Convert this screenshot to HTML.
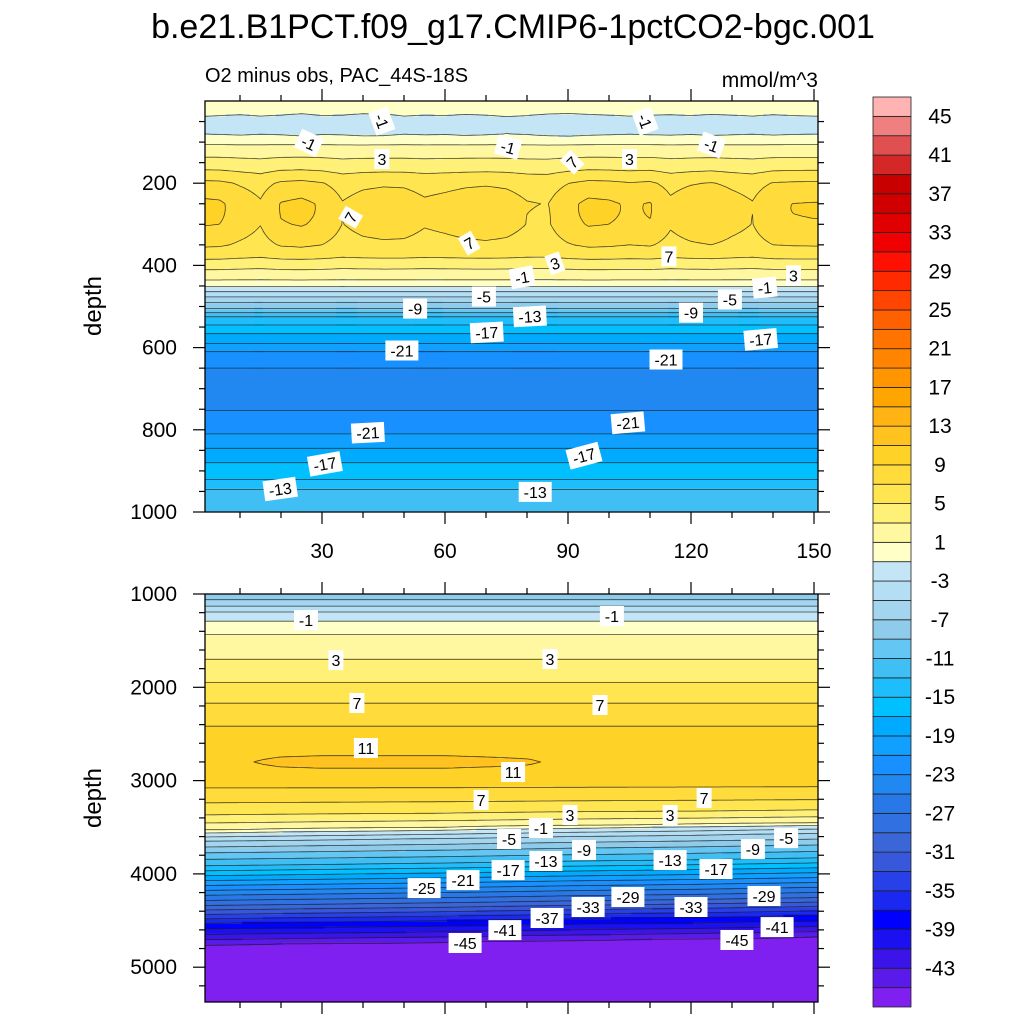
<!DOCTYPE html>
<html><head><meta charset="utf-8">
<style>
html,body{margin:0;padding:0;background:#fff;}
svg{display:block;font-family:"Liberation Sans",Arial,sans-serif;}
</style></head>
<body>
<svg id="chart" width="1024" height="1024" viewBox="0 0 1024 1024">
  <defs>
    <clipPath id="clipU"><rect x="205" y="101" width="613" height="411"/></clipPath>
    <clipPath id="clipL"><rect x="205" y="594" width="613" height="408"/></clipPath>
  </defs>
  <text x="513" y="38" text-anchor="middle" font-size="34">b.e21.B1PCT.f09_g17.CMIP6-1pctCO2-bgc.001</text>
  <text x="205" y="82" font-size="20">O2 minus obs, PAC_44S-18S</text>
  <text x="818" y="87" text-anchor="end" font-size="21">mmol/m^3</text>
  <text transform="translate(101,306) rotate(-90)" text-anchor="middle" font-size="24">depth</text>
  <text transform="translate(101,798) rotate(-90)" text-anchor="middle" font-size="24">depth</text>
  <g id="upperFill" clip-path="url(#clipU)"></g>
  <g id="upperLines" clip-path="url(#clipU)"></g>
  <g id="lowerFill" clip-path="url(#clipL)"></g>
  <g id="lowerLines" clip-path="url(#clipL)"></g>
  <g id="labels"></g>
  <g id="axes"></g>
  <g id="colorbar"></g>
</svg>
<script>
// ---- data ----
const colorsBottomUp = ["#8020f0","#5a1aea","#3a14e8","#1a10f0","#0000ff","#1a28f0","#2840e8","#3858dc","#3a66d8","#3070e0","#2878e8","#2088f0","#1890ff","#10a0ff","#00aaff","#00c0ff","#1ebefc","#40bff4","#64c6f2","#8fcbea","#a3d5ee","#b3def4","#c3e5f5","#ffffc8","#fff8a0","#fff078","#ffe650","#ffdc3c","#ffd228","#ffc21e","#ffb414","#ffa500","#ff9600","#ff8400","#ff7400","#ff6000","#ff4500","#ff2a00","#ff1000","#f00000","#e00000","#d00000","#c80000","#d42828","#e05050","#f08080","#ffb3b3"];
const levelMin = -45, levelStep = 2, levelCount = 46;
const xTickValues = [30,60,90,120,150];
const upperYTicks = [200,400,600,800,1000];
const lowerYTicks = [1000,2000,3000,4000,5000];

const uDepths  = [0,20,40,60,80,100,120,150,175,200,250,300,350,375,400,425,440,455,470,490,505,525,545,566,590,610,650,700,740,780,810,845,880,915,945,975,1000];
const uProfile = [0.5,0.3,-1.5,-1.8,-1.2,0.5,2,3.5,5,6.5,7.6,7.4,6.5,5.5,3.5,2,0.5,-1.5,-4,-7,-9,-13,-15,-17,-19,-21,-23,-24.3,-23.5,-22,-21,-19,-17,-15.5,-13,-12,-11];
const uMidYears = [0,5,10,15,20,25,30,35,40,45,50,55,60,65,70,75,80,85,90,95,100,105,110,115,120,125,130,135,140,145,150];
const uMidAnom  = [2.0,1.8,0.6,-0.4,1.6,2.0,1.2,-0.5,0.2,0.5,0.4,-0.3,0.0,0.4,0.6,0.3,-0.5,-0.7,0.9,2.0,1.8,1.2,1.6,-0.2,0.7,1.2,0.2,-0.5,1.2,1.5,1.6];
const uSurfAnom = [0.3,0.1,-0.1,0.2,0,-0.4,0.1,0,-0.4,-0.3,0.2,0,0.1,-0.2,0,0.3,0.1,-0.3,-0.5,-0.2,0,0.2,0,-0.1,0.1,-0.2,0,0.2,-0.1,0.1,0.2];

const lDepths  = [1000,1060,1130,1190,1290,1430,1560,1700,1950,2170,2415,2650,2800,2900,3080,3240,3370,3455,3530,3560,3650,3775,3915,4020,4125,4230,4340,4435,4530,4650,4760,4850,5400];
const lProfile = [-9,-7,-5,-3,-1,1,2,3,5,7,9,10.3,10.6,10.4,9,7,5,3,1,-1,-5,-9,-13,-17,-21,-25,-29,-33,-37,-41,-45,-46,-47];
const lShiftYears = [0,30,60,90,120,150];
const lShift      = [0,15,30,50,65,85];
const lBumpYears = [0,10,20,30,40,50,60,70,80,90,100,110,120,130,140,150];
const lBump      = [0,0.3,0.6,0.7,0.7,0.7,0.7,0.6,0.5,0.2,0,0,0,0,0,0];

const upperLabels = [
 ["-1",44.6,49,70],["-1",26.8,102,25],["3",44.6,141,0],["-1",75.4,112,15],["7",91,149,-45],["3",105,141,0],["-1",108.8,49,70],["-1",125,107,20],
 ["7",37,283,-60],["7",65.9,346,-30],["3",86.8,395,-20],["7",114.6,378,0],["-1",78.8,429,-10],["-1",138,454,-5],["3",145,424,0],
 ["-5",69.5,476,0],["-5",129.5,483,0],["-9",52.7,505,0],["-9",120,515,0],["-13",80.7,524,-3],["-17",70.2,563,-3],["-17",137,580,-5],
 ["-21",49.5,607,0],["-21",113.9,629,0],["-21",104.6,783,-5],["-21",41.2,807,-3],["-17",93.9,863,-15],["-17",30.7,883,-10],["-13",19.8,944,-8],["-13",82,951,0]];
const lowerLabels = [
 ["-1",26.1,1279],["-1",100.7,1236],["3",33.4,1708],["3",85.6,1697],["7",38.5,2168],["7",97.8,2190],["11",40.7,2651],["11",76.6,2908],
 ["7",68.8,3208],["7",123.2,3187],["3",90.5,3369],["3",114.9,3369],["-1",83.4,3508],["-5",75.6,3626],["-5",143.2,3616],["-9",93.9,3744],["-9",135.1,3734],
 ["-13",84.6,3862],["-13",114.9,3852],["-17",75.4,3959],["-17",126.1,3948],["-21",64.4,4066],["-25",54.9,4152],["-29",104.6,4248],["-29",137.8,4237],
 ["-33",94.9,4355],["-33",120,4355],["-37",84.9,4473],["-41",74.6,4602],["-41",141,4570],["-45",64.9,4741],["-45",131.2,4709]];

// ---- scales ----
const NS = "http://www.w3.org/2000/svg";
const xs = yr => 199 + 4.1*yr;
const yU = d => 101 + 0.411*d;
const yL = d => 594 + (d-1000)*0.0933;
function interp(X,Y,x){
  if(x<=X[0]) return Y[0];
  for(let i=1;i<X.length;i++){ if(x<=X[i]){const t=(x-X[i-1])/(X[i]-X[i-1]); return Y[i-1]+t*(Y[i]-Y[i-1]);} }
  return Y[Y.length-1];
}
function upperVal(yr,d){
  const wMid=Math.exp(-Math.pow((d-270)/85,2));
  const wSurf=Math.exp(-Math.pow((d-55)/30,2));
  return interp(uDepths,uProfile,d)+interp(uMidYears,uMidAnom,yr)*wMid+interp(uMidYears,uSurfAnom,yr)*wSurf*1.5;
}
function lowerVal(yr,d){
  const w=Math.max(0,Math.min(1,(d-3000)/500));
  const dd=d+interp(lShiftYears,lShift,yr)*w;
  const wb=Math.exp(-Math.pow((d-2800)/130,2));
  return interp(lDepths,lProfile,dd)+interp(lBumpYears,lBump,yr)*wb;
}
function colorIdx(v){ let k=Math.floor((v-levelMin)/levelStep)+1; return Math.max(0,Math.min(colorsBottomUp.length-1,k)); }

function el(tag,attrs,parent){const e=document.createElementNS(NS,tag);for(const k in attrs)e.setAttribute(k,attrs[k]);parent.appendChild(e);return e;}

function drawPanel(fillG,lineG,valFn,yScale,d0,d1,dStep){
  const years=[];for(let y=1;y<=151;y+=1)years.push(y);
  const depths=[];for(let d=d0;d<=d1+0.01;d+=dStep)depths.push(d);
  const V=depths.map(d=>years.map(y=>valFn(y,d)));
  for(let j=0;j<depths.length;j++){
    const ya=yScale(depths[j]-dStep/2), yb=yScale(depths[j]+dStep/2);
    let i=0;
    while(i<years.length){
      const k=colorIdx(V[j][i]);let e=i;
      while(e+1<years.length&&colorIdx(V[j][e+1])===k)e++;
      const xa=xs(years[i]-0.5), xb=xs(years[e]+0.5);
      const r=el("rect",{x:xa.toFixed(1),y:ya.toFixed(2),width:(xb-xa+1.2).toFixed(1),height:(yb-ya+0.6).toFixed(2),fill:colorsBottomUp[k]},fillG);
      
      
      i=e+1;
    }
  }
  let dstr="";
  for(let L=0;L<levelCount;L++){
    const lv=levelMin+L*levelStep+1e-4;
    for(let j=0;j<depths.length-1;j++){
      const y0=yScale(depths[j]),y1=yScale(depths[j+1]);
      for(let i=0;i<years.length-1;i++){
        const a=V[j][i],b=V[j][i+1],c=V[j+1][i+1],d=V[j+1][i];
        const mn=Math.min(a,b,c,d),mx=Math.max(a,b,c,d);
        if(lv<mn||lv>mx)continue;
        const x0=xs(years[i]),x1=xs(years[i+1]);const p=[];
        if((a-lv)*(b-lv)<0){const t=(lv-a)/(b-a);p.push([x0+t*(x1-x0),y0]);}
        if((b-lv)*(c-lv)<0){const t=(lv-b)/(c-b);p.push([x1,y0+t*(y1-y0)]);}
        if((d-lv)*(c-lv)<0){const t=(lv-d)/(c-d);p.push([x0+t*(x1-x0),y1]);}
        if((a-lv)*(d-lv)<0){const t=(lv-a)/(d-a);p.push([x0,y0+t*(y1-y0)]);}
        for(let q=0;q+1<p.length;q+=2){dstr+="M"+p[q][0].toFixed(1)+" "+p[q][1].toFixed(1)+"L"+p[q+1][0].toFixed(1)+" "+p[q+1][1].toFixed(1);}
      }
    }
  }
  const path=el("path",{d:dstr,stroke:"#1a1a1a","stroke-width":"0.8","stroke-opacity":"0.8",fill:"none"},lineG);
  
  
}
drawPanel(document.getElementById("upperFill"),document.getElementById("upperLines"),upperVal,yU,0,1000,5);
drawPanel(document.getElementById("lowerFill"),document.getElementById("lowerLines"),lowerVal,yL,1000,5400,25);

// ---- contour labels ----
const lg=document.getElementById("labels");
function addLabel(txt,x,y,rot){
  const g=el("g",{transform:"translate("+x.toFixed(1)+","+y.toFixed(1)+") rotate("+rot+")"},lg);
  
  
  const w=txt.length*9+6;
  el("rect",{x:-w/2,y:-10,width:w,height:20,fill:"#fff"},g);
  const t=el("text",{x:0,y:6,"text-anchor":"middle","font-size":"16"},g);t.textContent=txt;
}
upperLabels.forEach(l=>addLabel(l[0],xs(l[1]),yU(l[2]),l[3]));
lowerLabels.forEach(l=>addLabel(l[0],xs(l[1]),yL(l[2]),0));

// ---- axes ----
const ax=document.getElementById("axes");
function line(x1,y1,x2,y2,name){const l=el("line",{x1,y1,x2,y2,stroke:"#000","stroke-width":"1.2"},ax);}
function txt(s,x,y,anchor,size,name){const t=el("text",{x,y,"text-anchor":anchor,"font-size":size},ax);t.textContent=s;}
[[101,512,yU,upperYTicks,50,0,1000,"upper"],[594,1002,yL,lowerYTicks,200,1000,5375,"lower"]].forEach(P=>{
  const [top,bot,ys,ticks,minorStep,dmin,dmax,nm]=P;
  const fr=el("rect",{x:205,y:top,width:613,height:bot-top,fill:"none",stroke:"#000","stroke-width":"1.3"},ax);
  
  
  for(let yr=10;yr<=150;yr+=10){
    const x=xs(yr);const len=(yr%30===0)?12:6;
    line(x,top,x,top-len,nm+'-top-tick');
    line(x,bot,x,bot+len,nm+'-bottom-tick');
  }
  for(let d=Math.ceil(dmin/minorStep)*minorStep;d<=dmax;d+=minorStep){
    if(d<=dmin&&nm==="upper")continue;
    const y=ys(d);const major=ticks.indexOf(d)>=0;const len=major?12:6;
    line(205,y,205-len,y,nm+'-left-tick');
    line(818,y,818+len,y,nm+'-right-tick');
  }
  ticks.forEach(d=>txt(String(d),177,ys(d)+7,"end","21",nm+'-y-tick-label'));
});
xTickValues.forEach(v=>txt(String(v),xs(v),558,"middle","21",'x-tick-label'));

// ---- colorbar ----
const cb=document.getElementById("colorbar");
const cbTop=97,cbBot=1007,n=colorsBottomUp.length,h=(cbBot-cbTop)/n;
for(let k=0;k<n;k++){
  const r=el("rect",{x:873,y:(cbBot-(k+1)*h).toFixed(2),width:38,height:h.toFixed(2),fill:colorsBottomUp[k],stroke:"#222","stroke-width":"0.8"},cb);
  
  
}
for(let L=0;L<levelCount;L++){
  const lv=levelMin+L*levelStep;
  if((45-lv)%4!==0)continue;
  const y=cbBot-(L+1)*h;
  const t=el("text",{x:940,y:(y+7).toFixed(1),"text-anchor":"middle","font-size":"21"},cb);
  t.textContent=String(lv);
  
  
}
</script>
</body></html>
